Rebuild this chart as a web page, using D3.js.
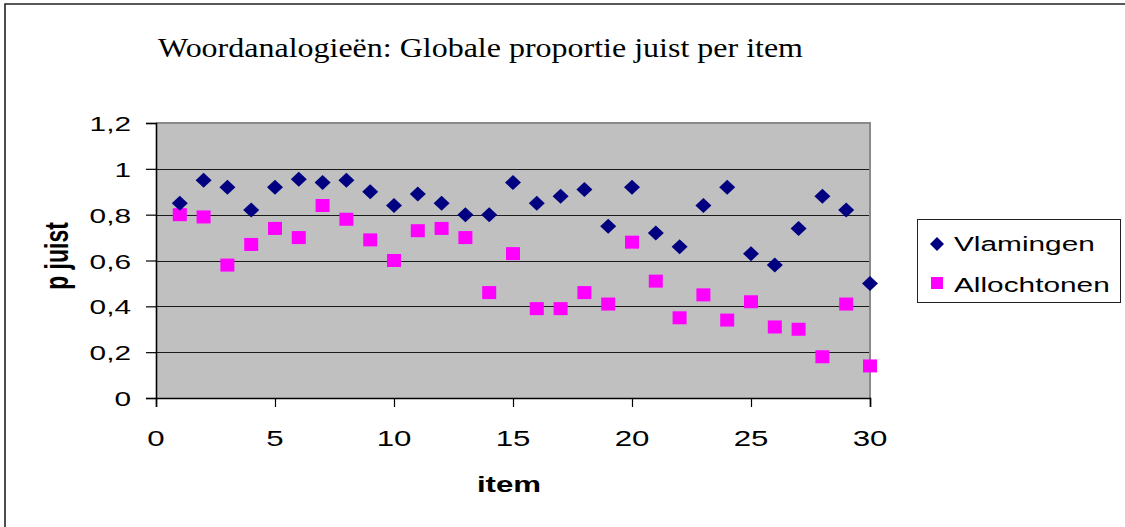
<!DOCTYPE html>
<html>
<head>
<meta charset="utf-8">
<script src="https://cdn.jsdelivr.net/npm/d3@7/dist/d3.min.js"></script>
<style>
  html, body { margin: 0; padding: 0; background: #fff; }
  svg { display: block; }
</style>
</head>
<body>
<svg id="chart" width="1125" height="527"></svg>
<script>
// Item numbers and proportion correct per group
const items = d3.range(1, 31);
const vlamingen = [0.85, 0.95, 0.92, 0.82, 0.92, 0.955, 0.94, 0.95, 0.90, 0.84,
                   0.89, 0.85, 0.80, 0.80, 0.94, 0.85, 0.88, 0.91, 0.75, 0.92,
                   0.72, 0.66, 0.84, 0.92, 0.63, 0.58, 0.74, 0.88, 0.82, 0.50];
const allochtonen = [0.80, 0.79, 0.58, 0.67, 0.74, 0.70, 0.84, 0.78, 0.69, 0.60,
                     0.73, 0.74, 0.70, 0.46, 0.63, 0.39, 0.39, 0.46, 0.41, 0.68,
                     0.51, 0.35, 0.45, 0.34, 0.42, 0.31, 0.30, 0.18, 0.41, 0.14];
const xTicks = [0, 5, 10, 15, 20, 25, 30];
const yTicks = [0, 0.2, 0.4, 0.6, 0.8, 1, 1.2];
const seriesNames = ["Vlamingen", "Allochtonen"];

const title = "Woordanalogieën: Globale proportie juist per item";
const xTitle = "item";
const yTitle = "p juist";

// Layout
const plot = { left: 156, right: 870, top: 123, bottom: 398 };
const SX = 1.42;                 // horizontal widening of the sans labels
const sans = "Arial, 'Liberation Sans', Helvetica, sans-serif";
const serif = "'Times New Roman', 'Liberation Serif', serif";
const fmt = v => String(v).replace(".", ",");

const svg = d3.select("#chart");

const x = d3.scaleLinear().domain([0, 30]).range([plot.left, plot.right]);
const y = d3.scaleLinear().domain([0, 1.2]).range([plot.bottom, plot.top]);

// Outer frame (top and left edges are visible)
svg.append("path")
  .attr("d", "M5,527 L5,4 L1125,4")
  .attr("fill", "none").attr("stroke", "#222").attr("stroke-width", 1.6);

// Plot area
svg.append("rect")
  .attr("x", plot.left).attr("y", plot.top)
  .attr("width", plot.right - plot.left).attr("height", plot.bottom - plot.top)
  .attr("fill", "#c0c0c0");

// Horizontal gridlines
svg.append("g").selectAll("line")
  .data(yTicks.filter(v => v > 0 && v < 1.2))
  .join("line")
  .attr("x1", plot.left).attr("x2", plot.right)
  .attr("y1", d => Math.round(y(d)) + 0.5).attr("y2", d => Math.round(y(d)) + 0.5)
  .attr("stroke", "#1a1a1a").attr("stroke-width", 1);

// Plot border on top/right
svg.append("path")
  .attr("d", `M${plot.left},${plot.top} L${plot.right},${plot.top} L${plot.right},${plot.bottom}`)
  .attr("fill", "none").attr("stroke", "#8a8a8a").attr("stroke-width", 2);

// Axes
const yAxis = d3.axisLeft(y).tickValues(yTicks).tickSize(10).tickFormat("");
const xAxis = d3.axisBottom(x).tickValues(xTicks).tickSize(9).tickFormat("");

const gy = svg.append("g").attr("transform", `translate(${plot.left},0)`).call(yAxis);
const gx = svg.append("g").attr("transform", `translate(0,${plot.bottom})`).call(xAxis);
[gy, gx].forEach(g => {
  g.select(".domain").attr("stroke", "#000").attr("stroke-width", 1.6);
  g.selectAll(".tick line").attr("stroke", "#000").attr("stroke-width", 1.2);
});

// Widened sans text helper
function label(str, px, py, opts = {}) {
  const t = svg.append("text")
    .attr("transform", `translate(${px},${py}) scale(${SX},1)` + (opts.rotate ? ` rotate(${opts.rotate})` : ""))
    .attr("text-anchor", opts.anchor || "start")
    .attr("font-family", sans)
    .attr("font-size", opts.size || 21)
    .attr("font-weight", opts.weight || "normal")
    .attr("fill", "#000")
    .text(str);
  return t;
}

// Tick labels
yTicks.forEach(v => label(fmt(v), 131, y(v) + 8, { anchor: "end" }));
xTicks.forEach(v => label(fmt(v), x(v), 446, { anchor: "middle", size: 22 }));

// Axis titles
label(xTitle, 509, 492, { anchor: "middle", weight: "bold", size: 22 });
label(yTitle, 68, 256, { anchor: "middle", weight: "bold", size: 23, rotate: -90 });

// Chart title
svg.append("text")
  .attr("x", 158).attr("y", 57)
  .attr("font-family", serif).attr("font-size", 28)
  .attr("textLength", 645).attr("lengthAdjust", "spacingAndGlyphs")
  .attr("fill", "#000")
  .text(title);

// Marker shapes
const diamond = (cx, cy, w = 8, h = 7.5) =>
  `M${cx},${cy - h} L${cx + w},${cy} L${cx},${cy + h} L${cx - w},${cy} Z`;
const SQ_W = 14, SQ_H = 13;

// Series: Allochtonen (squares) then Vlamingen (diamonds)
svg.append("g").selectAll("rect")
  .data(items.map((it, i) => ({ it, v: allochtonen[i] })))
  .join("rect")
  .attr("x", d => x(d.it) - SQ_W / 2).attr("y", d => y(d.v) - SQ_H / 2)
  .attr("width", SQ_W).attr("height", SQ_H)
  .attr("fill", "#ff00ff");

svg.append("g").selectAll("path")
  .data(items.map((it, i) => ({ it, v: vlamingen[i] })))
  .join("path")
  .attr("d", d => diamond(x(d.it), y(d.v)))
  .attr("fill", "#000080");

// Legend
svg.append("rect")
  .attr("x", 917.5).attr("y", 219.5).attr("width", 203).attr("height", 83)
  .attr("fill", "#fff").attr("stroke", "#222").attr("stroke-width", 1);
svg.append("path").attr("d", diamond(937, 244, 7, 7)).attr("fill", "#000080");
svg.append("rect").attr("x", 931).attr("y", 277).attr("width", 12).attr("height", 12).attr("fill", "#ff00ff");
label(seriesNames[0], 954, 251);
label(seriesNames[1], 954, 292);
</script>
</body>
</html>
